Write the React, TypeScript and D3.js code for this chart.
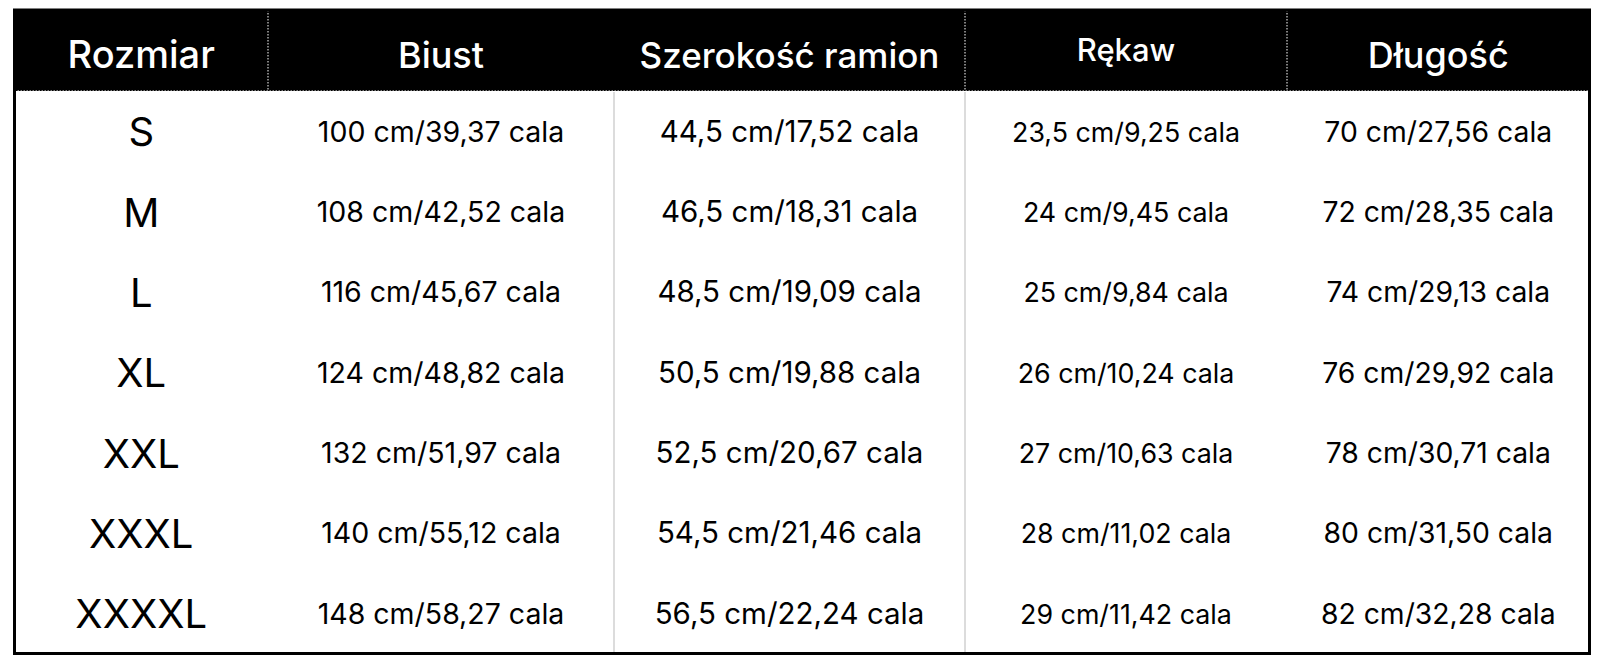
import * as d3 from "d3";
import React from "react";

const headers = ["Rozmiar", "Biust", "Szerokość ramion", "Rękaw", "Długość"];
const sizes = ["S", "M", "L", "XL", "XXL", "XXXL", "XXXXL"];
const biust = [
  "100 cm/39,37 cala",
  "108 cm/42,52 cala",
  "116 cm/45,67 cala",
  "124 cm/48,82 cala",
  "132 cm/51,97 cala",
  "140 cm/55,12 cala",
  "148 cm/58,27 cala",
];
const ramiona = [
  "44,5 cm/17,52 cala",
  "46,5 cm/18,31 cala",
  "48,5 cm/19,09 cala",
  "50,5 cm/19,88 cala",
  "52,5 cm/20,67 cala",
  "54,5 cm/21,46 cala",
  "56,5 cm/22,24 cala",
];
const rekaw = [
  "23,5 cm/9,25 cala",
  "24 cm/9,45 cala",
  "25 cm/9,84 cala",
  "26 cm/10,24 cala",
  "27 cm/10,63 cala",
  "28 cm/11,02 cala",
  "29 cm/11,42 cala",
];
const dlugosc = [
  "70 cm/27,56 cala",
  "72 cm/28,35 cala",
  "74 cm/29,13 cala",
  "76 cm/29,92 cala",
  "78 cm/30,71 cala",
  "80 cm/31,50 cala",
  "82 cm/32,28 cala",
];

const W = 1598;
const H = 656;
const left = 14.5;
const right = 1589.5;
const top = 10;
const headBottom = 91;
const bottom = 653.5;
// column edges
const edges = [left, 268, 614, 965, 1287, right];
const headSize = [38, 36, 35, 31, 36];
const bodySize = [40, 28.5, 29.5, 26.8, 28.3];
const font = "Inter, 'Noto Sans', sans-serif";

export default function App() {
  const columns = [sizes, biust, ramiona, rekaw, dlugosc];
  const y = d3.scaleBand<string>().domain(sizes).range([headBottom, bottom]);
  const colCenter = (i: number) => (edges[i] + edges[i + 1]) / 2;

  return (
    <svg
      width={W}
      height={H}
      style={{ position: "absolute", left: 0, top: 0, background: "#fff" }}
    >
      <rect x={left} y={top} width={right - left} height={headBottom - top} fill="#000" />
      {/* header separators */}
      {[1, 3, 4].map((i) => (
        <line
          key={i}
          x1={edges[i]}
          x2={edges[i]}
          y1={top}
          y2={headBottom}
          stroke="#fff"
          strokeWidth={1}
          strokeDasharray="1.5 1.5"
        />
      ))}
      <line
        x1={left}
        x2={right}
        y1={headBottom}
        y2={headBottom}
        stroke="#fff"
        strokeWidth={1.2}
        strokeDasharray="1.5 1.5"
      />
      {/* body separators */}
      {[2, 3].map((i) => (
        <line
          key={i}
          x1={edges[i]}
          x2={edges[i]}
          y1={headBottom + 1}
          y2={bottom}
          stroke="#dcdcdc"
          strokeWidth={2}
        />
      ))}
      {headers.map((h, i) => (
        <text
          key={h}
          x={colCenter(i)}
          y={h === "Rękaw" ? 61 : 68}
          textAnchor="middle"
          fill="#fff"
          fontFamily={font}
          fontWeight={500}
          fontSize={headSize[i]}
        >
          {h}
        </text>
      ))}
      {columns.map((col, ci) =>
        col.map((v, ri) => (
          <text
            key={ci + "-" + ri}
            x={colCenter(ci)}
            y={(y(sizes[ri]) ?? 0) + y.bandwidth() / 2 + (ci === 0 ? 15 : 10.5)}
            textAnchor="middle"
            fill="#000"
            fontFamily={font}
            fontSize={bodySize[ci]}
          >
            {v}
          </text>
        ))
      )}
      <rect
        x={left}
        y={top}
        width={right - left}
        height={bottom - top}
        fill="none"
        stroke="#000"
        strokeWidth={3}
      />
    </svg>
  );
}
